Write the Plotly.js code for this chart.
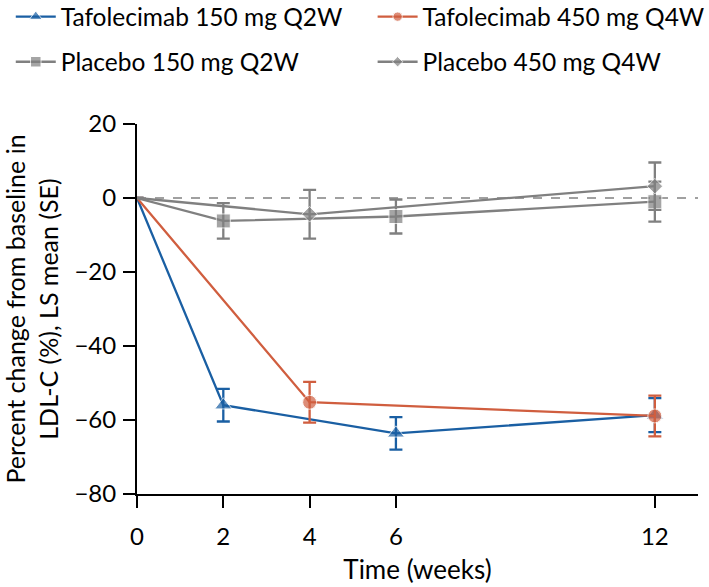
<!DOCTYPE html>
<html>
<head>
<meta charset="utf-8">
<script src="https://cdn.plot.ly/plotly-3.0.1.min.js"></script>
<style>
  html, body { margin: 0; padding: 0; background: #fff; }
  #plot { width: 709px; height: 587px; }
</style>
</head>
<body>
<div id="plot"></div>
<script>
// weeks and LS mean % change (SE)
const tafo150Weeks = [0, 2, 6, 12];
const tafo150Mean = [0, -56.0, -63.6, -58.7];
const tafo150SE = [0, 4.4, 4.4, 4.6];
const tafo150Marker = [false, true, true, true];

const tafo450Weeks = [0, 4, 12];
const tafo450Mean = [0, -55.2, -58.9];
const tafo450SE = [0, 5.5, 5.5];
const tafo450Marker = [false, true, true];

const pbo150Weeks = [0, 2, 6, 12];
const pbo150Mean = [0, -6.2, -5.0, -1.0];
const pbo150SE = [0, 4.8, 4.6, 5.4];
const pbo150Marker = [false, true, true, true];

const pbo450Weeks = [0, 4, 12];
const pbo450Mean = [0, -4.4, 3.2];
const pbo450SE = [0, 6.6, 6.4];
const pbo450Marker = [false, true, true];

const xTicks = [0, 2, 4, 6, 12];
const yTicks = [-80, -60, -40, -20, 0, 20];

const BLUE = '#1a5fa3';
const RED = '#d05e3f';
const GREY = '#808080';
const FONT = 'Lato, Arial, sans-serif';

function makeTrace(name, x, y, se, showMarker, color, symbol, size, legend) {
  return {
    x, y,
    type: 'scatter',
    mode: 'lines+markers',
    name,
    legend,
    line: { color, width: 2.3 },
    marker: {
      color,
      symbol,
      size: showMarker.map(s => s ? size : 0)
    },
    error_y: {
      type: 'data',
      array: se.map((v, i) => showMarker[i] ? v : 0),
      visible: true,
      color,
      thickness: 2.3,
      width: 6.5
    },
    cliponaxis: false
  };
}

const traces = [
  makeTrace('Tafolecimab 150 mg Q2W', tafo150Weeks, tafo150Mean, tafo150SE, tafo150Marker, BLUE, 'triangle-up', 15, 'legend'),
  makeTrace('Tafolecimab 450 mg Q4W', tafo450Weeks, tafo450Mean, tafo450SE, tafo450Marker, RED, 'circle', 14, 'legend2'),
  makeTrace('Placebo 150 mg Q2W', pbo150Weeks, pbo150Mean, pbo150SE, pbo150Marker, GREY, 'square', 14, 'legend3'),
  makeTrace('Placebo 450 mg Q4W', pbo450Weeks, pbo450Mean, pbo450SE, pbo450Marker, GREY, 'diamond', 12, 'legend4')
];

// one legend per entry so the 2x2 grid sits where the figure has it
function legendAt(x, y) {
  return {
    x, y,
    xanchor: 'left',
    yanchor: 'middle',
    itemwidth: 40,
    font: { family: FONT, size: 24.5, color: '#000' },
    bgcolor: 'rgba(0,0,0,0)',
    borderwidth: 0
  };
}

const layout = {
  width: 709,
  height: 587,
  font: { family: FONT, size: 24, color: '#000' },
  paper_bgcolor: '#fff',
  plot_bgcolor: '#fff',
  margin: { l: 137, r: 11, t: 124, b: 93, autoexpand: false },
  showlegend: true,
  legend: legendAt(-0.225, 1.29),
  legend2: legendAt(0.42, 1.29),
  legend3: legendAt(-0.225, 1.168),
  legend4: legendAt(0.42, 1.168),
  xaxis: {
    range: [0, 13],
    tickvals: xTicks,
    ticktext: xTicks.map(String),
    ticks: 'outside',
    ticklen: 12,
    tickwidth: 2,
    tickcolor: '#000',
    showline: true,
    linecolor: '#000',
    linewidth: 2,
    showgrid: false,
    zeroline: false,
    tickfont: { family: FONT, size: 24 },
    ticklabelstandoff: 8,
    title: { text: 'Time (weeks)', font: { family: FONT, size: 26 }, standoff: 12 }
  },
  yaxis: {
    range: [-80, 20],
    tickvals: yTicks,
    ticks: 'outside',
    ticklen: 12,
    tickwidth: 2,
    tickcolor: '#000',
    showline: true,
    linecolor: '#000',
    linewidth: 2,
    showgrid: false,
    zeroline: false,
    tickfont: { family: FONT, size: 24 },
    ticklabelstandoff: 2,
    title: {
      text: 'Percent change from baseline in<br>LDL-C (%), LS mean (SE)',
      font: { family: FONT, size: 25 },
      standoff: 9
    }
  },
  shapes: [{
    type: 'line',
    xref: 'x', yref: 'y',
    x0: 0, x1: 13, y0: 0, y1: 0,
    line: { color: '#a0a0a0', width: 1.8, dash: 'dash' },
    layer: 'below'
  }]
};

Plotly.newPlot('plot', traces, layout, { displayModeBar: false, staticPlot: true });
</script>
</body>
</html>
